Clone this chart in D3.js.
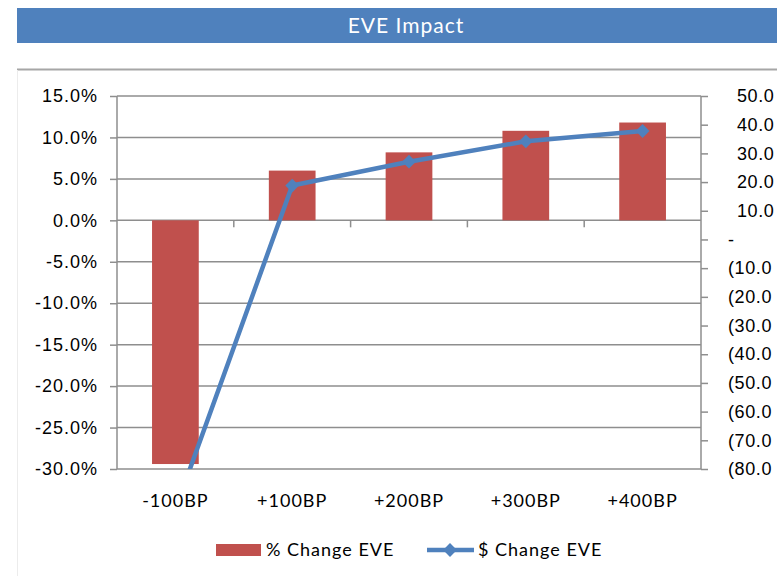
<!DOCTYPE html>
<html>
<head>
<meta charset="utf-8">
<script src="https://cdn.jsdelivr.net/npm/d3@7"></script>
<style>
  body { margin: 0; background: #fff; }
  svg { display: block; font-family: Lato, "Open Sans", sans-serif; letter-spacing: 1px; }
  .axis path { display: none; }
  .axis line { stroke: #8e8e8e; stroke-width: 1.5; }
  .axis text { fill: #000; font-size: 18px; }
</style>
</head>
<body>
<div id="chart"></div>
<script>
// data
const categories = ["-100BP", "+100BP", "+200BP", "+300BP", "+400BP"];
const pctChange = [-29.4, 6.0, 8.2, 10.8, 11.8];      // % Change EVE (left axis)
const dollarChange = [-94.0, 18.8, 27.1, 34.2, 37.8]; // $ Change EVE (right axis)
const leftTicks = [15, 10, 5, 0, -5, -10, -15, -20, -25, -30];
const rightTicks = [50, 40, 30, 20, 10, 0, -10, -20, -30, -40, -50, -60, -70, -80];
const chartTitle = "EVE Impact";
const seriesNames = ["% Change EVE", "$ Change EVE"];

const width = 777, height = 576;
const margin = { top: 96, bottom: 107, left: 117, right: 76 };
const barColor = "#c0504d";
const lineColor = "#4f81bd";

const svg = d3.select("#chart")
  .append("svg")
  .attr("width", width)
  .attr("height", height);

// title bar
svg.append("rect")
  .attr("x", 17).attr("y", 8)
  .attr("width", width - 17).attr("height", 35)
  .attr("fill", "#4f81bd");
svg.append("text")
  .attr("x", 406).attr("y", 33)
  .attr("text-anchor", "middle")
  .attr("fill", "#fff")
  .style("font-size", "21px")
  .text(chartTitle);

// chart frame
svg.append("line")
  .attr("x1", 17).attr("x2", width)
  .attr("y1", 69.5).attr("y2", 69.5)
  .attr("stroke", "#a6a6a6").attr("stroke-width", 2);
svg.append("line")
  .attr("x1", 17.5).attr("x2", 17.5)
  .attr("y1", 70).attr("y2", height)
  .attr("stroke", "#ececec").attr("stroke-width", 1);

const x0 = margin.left, x1 = width - margin.right;
const y0 = margin.top, y1 = height - margin.bottom;

const xScale = d3.scaleBand()
  .domain(categories)
  .range([x0, x1])
  .paddingInner(0.6)
  .paddingOuter(0.3);

const yLeft = d3.scaleLinear().domain([-30, 15]).range([y1, y0]);
const yRight = d3.scaleLinear().domain([-80, 50]).range([y1, y0]);

// gridlines
svg.append("g")
  .selectAll("line")
  .data(leftTicks)
  .join("line")
  .attr("x1", x0).attr("x2", x1)
  .attr("y1", d => yLeft(d)).attr("y2", d => yLeft(d))
  .attr("stroke", "#8e8e8e")
  .attr("stroke-width", 1.5);

// axis lines
svg.append("line")
  .attr("x1", x0).attr("x2", x0).attr("y1", y0).attr("y2", y1)
  .attr("stroke", "#8e8e8e").attr("stroke-width", 1.5);
svg.append("line")
  .attr("x1", x1).attr("x2", x1).attr("y1", y0).attr("y2", y1)
  .attr("stroke", "#8e8e8e").attr("stroke-width", 1.5);

// left axis
svg.append("g")
  .attr("class", "axis")
  .attr("transform", `translate(${x0},0)`)
  .call(d3.axisLeft(yLeft).tickValues(leftTicks).tickSize(7).tickPadding(12)
    .tickFormat(d => d.toFixed(1) + "%"));

// right axis (accounting style labels, cut at the right edge)
svg.append("g")
  .attr("class", "axis")
  .attr("transform", `translate(${x1},0)`)
  .call(d3.axisRight(yRight).tickValues(rightTicks).tickSize(7)
    .tickFormat(d => d > 0 ? d.toFixed(1) : d < 0 ? "(" + (-d).toFixed(1) : "-"))
  .selectAll("text")
  .style("letter-spacing", "0.6px")
  .attr("x", d => d > 0 ? 36 : 27);

// category ticks on the zero line
svg.append("g")
  .selectAll("line")
  .data(categories.slice(1))
  .join("line")
  .attr("x1", d => xScale(d) - xScale.step() * 0.3)
  .attr("x2", d => xScale(d) - xScale.step() * 0.3)
  .attr("y1", yLeft(0)).attr("y2", yLeft(0) + 7)
  .attr("stroke", "#8e8e8e").attr("stroke-width", 1.5);

// category labels at the bottom
svg.append("g")
  .selectAll("text")
  .data(categories)
  .join("text")
  .attr("x", d => xScale(d) + xScale.bandwidth() / 2)
  .attr("y", y1 + 38)
  .attr("text-anchor", "middle")
  .style("font-size", "18px")
  .text(d => d);

// bars
svg.append("g")
  .selectAll("rect")
  .data(pctChange)
  .join("rect")
  .attr("x", (d, i) => xScale(categories[i]))
  .attr("y", d => yLeft(Math.max(0, d)))
  .attr("width", xScale.bandwidth())
  .attr("height", d => Math.abs(yLeft(d) - yLeft(0)))
  .attr("fill", barColor);

// line, clipped to the plot area
svg.append("clipPath")
  .attr("id", "plotClip")
  .append("rect")
  .attr("x", x0).attr("y", y0)
  .attr("width", x1 - x0).attr("height", y1 - y0);

const lineG = svg.append("g").attr("clip-path", "url(#plotClip)");
const line = d3.line()
  .x((d, i) => xScale(categories[i]) + xScale.bandwidth() / 2)
  .y(d => yRight(d));

lineG.append("path")
  .datum(dollarChange)
  .attr("d", line)
  .attr("fill", "none")
  .attr("stroke", lineColor)
  .attr("stroke-width", 4.5)
  .attr("stroke-linejoin", "round");

const diamond = d3.symbol(d3.symbolSquare, 95);
lineG.selectAll(".marker")
  .data(dollarChange)
  .join("path")
  .attr("class", "marker")
  .attr("d", diamond)
  .attr("transform", (d, i) =>
    `translate(${xScale(categories[i]) + xScale.bandwidth() / 2},${yRight(d)}) rotate(45)`)
  .attr("fill", lineColor);

// legend
const legend = svg.append("g").style("font-size", "18px");
legend.append("rect")
  .attr("x", 216).attr("y", 544)
  .attr("width", 45).attr("height", 12)
  .attr("fill", barColor);
legend.append("text")
  .attr("x", 266).attr("y", 556)
  .text(seriesNames[0]);
legend.append("line")
  .attr("x1", 427).attr("x2", 474)
  .attr("y1", 550).attr("y2", 550)
  .attr("stroke", lineColor).attr("stroke-width", 4.5);
legend.append("path")
  .attr("d", diamond)
  .attr("transform", "translate(450,550) rotate(45)")
  .attr("fill", lineColor);
legend.append("text")
  .attr("x", 478).attr("y", 556)
  .text(seriesNames[1]);
</script>
</body>
</html>
